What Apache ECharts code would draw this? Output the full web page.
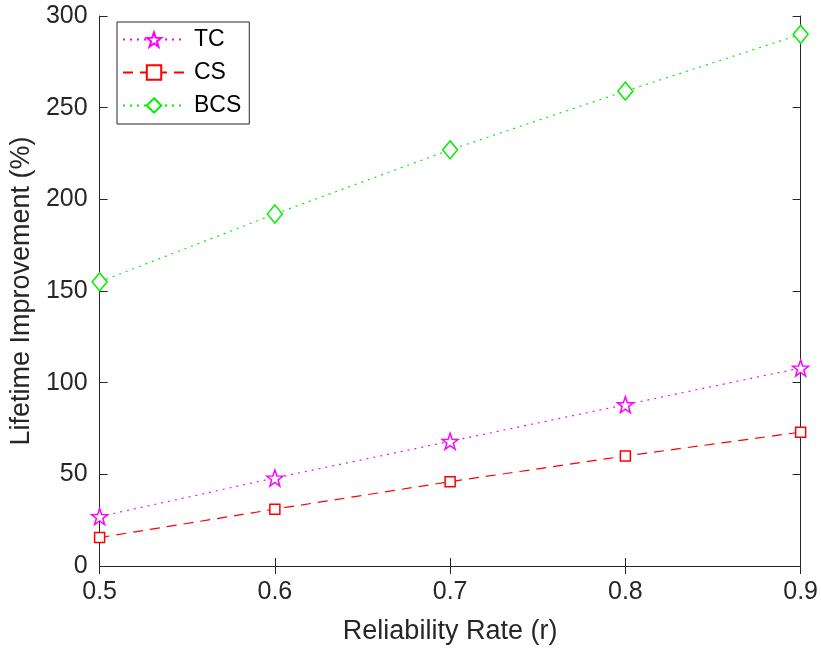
<!DOCTYPE html>
<html>
<head>
<meta charset="utf-8">
<script src="https://cdn.jsdelivr.net/npm/echarts@6/dist/echarts.min.js"></script>
<style>
  body { margin: 0; background: #fff; }
  #main { width: 821px; height: 650px; }
</style>
</head>
<body>
<div id="main"></div>
<script>
// data
var rates = [0.5, 0.6, 0.7, 0.8, 0.9];
var tcValues = [27, 48, 68, 88, 108];
var csValues = [15.5, 31, 46, 60, 73];
var bcsValues = [155, 192, 227, 259, 290];

function pairs(ys) {
  return rates.map(function (x, i) { return [x, ys[i]]; });
}

var starPath = 'path://M12,0 L14.9,8.1 L23.4,8.3 L16.6,13.5 L19.1,21.7 L12,16.8 L4.9,21.7 L7.4,13.5 L0.6,8.3 L9.1,8.1 Z';
var axisColor = '#262626';
var font = 'Liberation Sans, Arial, sans-serif';

var myChart = echarts.init(document.getElementById('main'), null, { renderer: 'canvas' });

var tickStyle = { show: true, inside: true, length: 8, lineStyle: { color: axisColor } };

var option = {
  animation: false,
  grid: { left: 99, right: 19, top: 16, bottom: 84 },
  legend: {
    orient: 'vertical',
    left: 117,
    top: 22,
    backgroundColor: '#fff',
    borderColor: '#262626',
    borderWidth: 1,
    borderRadius: 0,
    padding: [6, 8, 7, 5],
    itemWidth: 62,
    itemHeight: 18,
    itemGap: 10,
    textStyle: { fontFamily: font, fontSize: 23, color: '#000', padding: [0, 0, 0, 4] },
    data: ['TC', 'CS', 'BCS']
  },
  xAxis: [
    {
      type: 'value',
      min: 0.5,
      max: 0.9,
      interval: 0.1,
      name: 'Reliability Rate (r)',
      nameLocation: 'middle',
      nameGap: 52,
      nameTextStyle: { fontFamily: font, fontSize: 27, color: '#262626' },
      axisLine: { show: true, lineStyle: { color: axisColor } },
      axisTick: tickStyle,
      axisLabel: {
        fontFamily: font, fontSize: 25, color: '#262626', margin: 14,
        formatter: function (v) { return v.toFixed(1); }
      },
      splitLine: { show: false }
    },
    {
      type: 'value',
      position: 'top',
      min: 0.5,
      max: 0.9,
      interval: 0.1,
      axisLine: { show: true, lineStyle: { color: axisColor } },
      axisTick: tickStyle,
      axisLabel: { show: false },
      splitLine: { show: false }
    }
  ],
  yAxis: [
    {
      type: 'value',
      min: 0,
      max: 300,
      interval: 50,
      name: 'Lifetime Improvement (%)',
      nameLocation: 'middle',
      nameGap: 60,
      nameTextStyle: { fontFamily: font, fontSize: 27, color: '#262626' },
      axisLine: { show: true, lineStyle: { color: axisColor } },
      axisTick: tickStyle,
      axisLabel: { fontFamily: font, fontSize: 25, color: '#262626', margin: 12 },
      splitLine: { show: false }
    },
    {
      type: 'value',
      position: 'right',
      min: 0,
      max: 300,
      interval: 50,
      axisLine: { show: true, lineStyle: { color: axisColor } },
      axisTick: tickStyle,
      axisLabel: { show: false },
      splitLine: { show: false }
    }
  ],
  series: [
    {
      name: 'TC',
      type: 'line',
      data: pairs(tcValues),
      color: '#ff00ff',
      symbol: starPath,
      symbolSize: 16,
      lineStyle: { color: '#ff00ff', width: 1.2, type: [2, 5] },
      itemStyle: { color: '#fff', borderColor: '#ff00ff', borderWidth: 1.5 }
    },
    {
      name: 'CS',
      type: 'line',
      data: pairs(csValues),
      color: '#ff0000',
      symbol: 'rect',
      symbolSize: 10,
      lineStyle: { color: '#ff0000', width: 1.2, type: [10, 7] },
      itemStyle: { color: '#fff', borderColor: '#ff0000', borderWidth: 1.5 }
    },
    {
      name: 'BCS',
      type: 'line',
      data: pairs(bcsValues),
      color: '#00ee00',
      symbol: 'diamond',
      symbolSize: [15, 18],
      lineStyle: { color: '#00ee00', width: 1.2, type: [2, 5] },
      itemStyle: { color: '#fff', borderColor: '#00ee00', borderWidth: 1.5 }
    }
  ]
};

myChart.setOption(option);
window.addEventListener('resize', myChart.resize);
</script>
</body>
</html>
